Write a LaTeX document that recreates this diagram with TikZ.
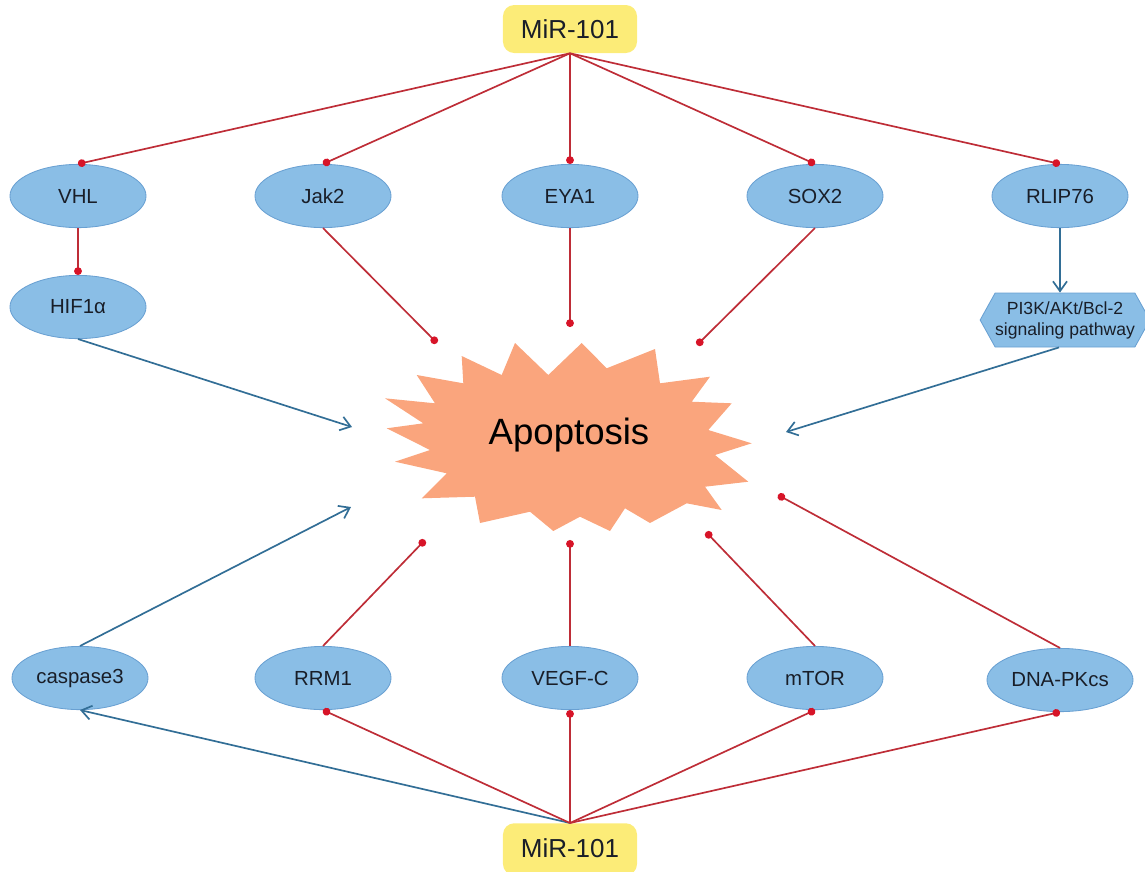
\documentclass[tikz,border=0pt]{standalone}
\usepackage{fontspec}
\setmainfont{Liberation Sans}
\usetikzlibrary{arrows.meta,shapes.geometric,shapes.symbols}
\definecolor{nodeblue}{RGB}{138,190,230}
\definecolor{nodeedge}{RGB}{105,160,210}
\definecolor{mirfill}{RGB}{252,236,120}
\definecolor{burst}{RGB}{250,165,125}
\definecolor{inhred}{RGB}{190,45,55}
\definecolor{dotred}{RGB}{215,20,40}
\definecolor{actblue}{RGB}{50,110,150}
\definecolor{txt}{RGB}{25,30,40}
\begin{document}
\begin{tikzpicture}[x=0.025cm,y=-0.025cm,
 gene/.style={ellipse, fill=nodeblue, draw=nodeedge, line width=0.6pt, minimum width=3.4cm, minimum height=1.58cm, inner sep=0pt, font=\fontsize{14.5}{16}\selectfont, text=txt},
 mir/.style={rectangle, rounded corners=8pt, fill=mirfill, minimum width=3.35cm, font=\fontsize{18.5}{20}\selectfont, text=txt},
 inh/.style={draw=inhred, line width=1.2pt, -{Circle[length=5.5pt,color=dotred]}},
 act/.style={draw=actblue, line width=1.2pt, -{Straight Barb[length=7pt,width=10pt]}},
]
\useasboundingbox (0,0) rectangle (1145,871);

% Apoptosis starburst
\fill[burst] (385,398.3) -- (435,403.3) -- (416.7,375) -- (463.3,383.3) -- (461.7,356) -- (501.7,375) -- (515,343) -- (548.3,375) -- (581.7,343) -- (606.7,368.3) -- (655,349) -- (660,383.3) -- (710,376.7) -- (691.7,401.7) -- (731.7,403.3) -- (708.3,430) -- (751.7,443.3) -- (715,455) -- (748.3,481.7) -- (705,486.7) -- (721.7,510) -- (686.7,503.3) -- (650,523) -- (625,508.3) -- (610,531) -- (580,516.7) -- (553.3,531) -- (530,511.7) -- (480,523) -- (475,496.7) -- (421.7,498.3) -- (446.7,473.3) -- (395,461.7) -- (430,450) -- (386.7,428.3) -- (423.3,423.3) -- cycle;
\node[font=\fontsize{26}{28}\selectfont, text=black] (apo) at (569,435) {Apoptosis};

% MiR-101 boxes
\node[mir, minimum height=1.2cm] (mirT) at (570,29) {MiR-101};
\node[mir, minimum height=1.3cm, anchor=north] (mirB) at (570,823) {};
\node[font=\fontsize{18.5}{20}\selectfont, text=txt] (mirBt) at (570,848) {MiR-101};

% top genes
\node[gene] (vhl) at (78,196) {VHL};
\node[gene] (jak) at (323,196) {Jak2};
\node[gene] (eya) at (570,196) {EYA1};
\node[gene] (sox) at (815,196) {SOX2};
\node[gene] (rlip) at (1060,196) {RLIP76};
\node[gene] (hif) at (78,307) {HIF1α};
\node[signal, signal to=east and west, signal pointer angle=122, fill=nodeblue, draw=nodeedge, line width=0.6pt, minimum width=3.75cm, minimum height=1.35cm, inner sep=0pt, font=\fontsize{12.5}{15}\selectfont, text=txt, align=center] (pi) at (1065,320) {PI3K/AKt/Bcl-2\\signaling pathway};

% bottom genes
\node[gene] (cas) at (80,678) {caspase3};
\node[gene] (rrm) at (323,678) {RRM1};
\node[gene] (veg) at (570,678) {VEGF-C};
\node[gene] (mto) at (815,678) {mTOR};
\node[gene, minimum width=3.65cm] (dna) at (1060,680) {DNA-PKcs};

% free ends near Apoptosis
\coordinate (aJak) at (437,343);
\coordinate (aEya) at (570,327);
\coordinate (aSox) at (697,345);
\coordinate (aHif) at (352,427);
\coordinate (aPi) at (786,432);
\coordinate (aCas) at (351,507);
\coordinate (aRrm) at (425,540);
\coordinate (aVeg) at (570,540);
\coordinate (aMto) at (706,532);
\coordinate (aDna) at (778,495);

% top MiR-101 inhibitions
\draw[inh] (mirT.south) -- (vhl.north);
\draw[inh] (mirT.south) -- (jak.north);
\draw[inh] (mirT.south) -- (eya.north);
\draw[inh] (mirT.south) -- (sox.north);
\draw[inh] (mirT.south) -- (rlip.north);
\draw[inh] (vhl.south) -- (hif.north);
\draw[inh] (jak.south) -- (aJak);
\draw[inh] (eya.south) -- (aEya);
\draw[inh] (sox.south) -- (aSox);
\draw[act] (rlip.south) -- (rlip.south |- pi.north);
\draw[act] (hif.south) -- (aHif);
\draw[act] ([xshift=-0.15cm]pi.south) -- (aPi);

% bottom
\draw[act] (cas.north) -- (aCas);
\draw[inh] (rrm.north) -- (aRrm);
\draw[inh] (veg.north) -- (aVeg);
\draw[inh] (mto.north) -- (aMto);
\draw[inh] (dna.north) -- (aDna);
\draw[act] (mirB.north) -- (cas.south);
\draw[inh] (mirB.north) -- (rrm.south);
\draw[inh] (mirB.north) -- (veg.south);
\draw[inh] (mirB.north) -- (mto.south);
\draw[inh] (mirB.north) -- (dna.south);
\end{tikzpicture}
\end{document}
